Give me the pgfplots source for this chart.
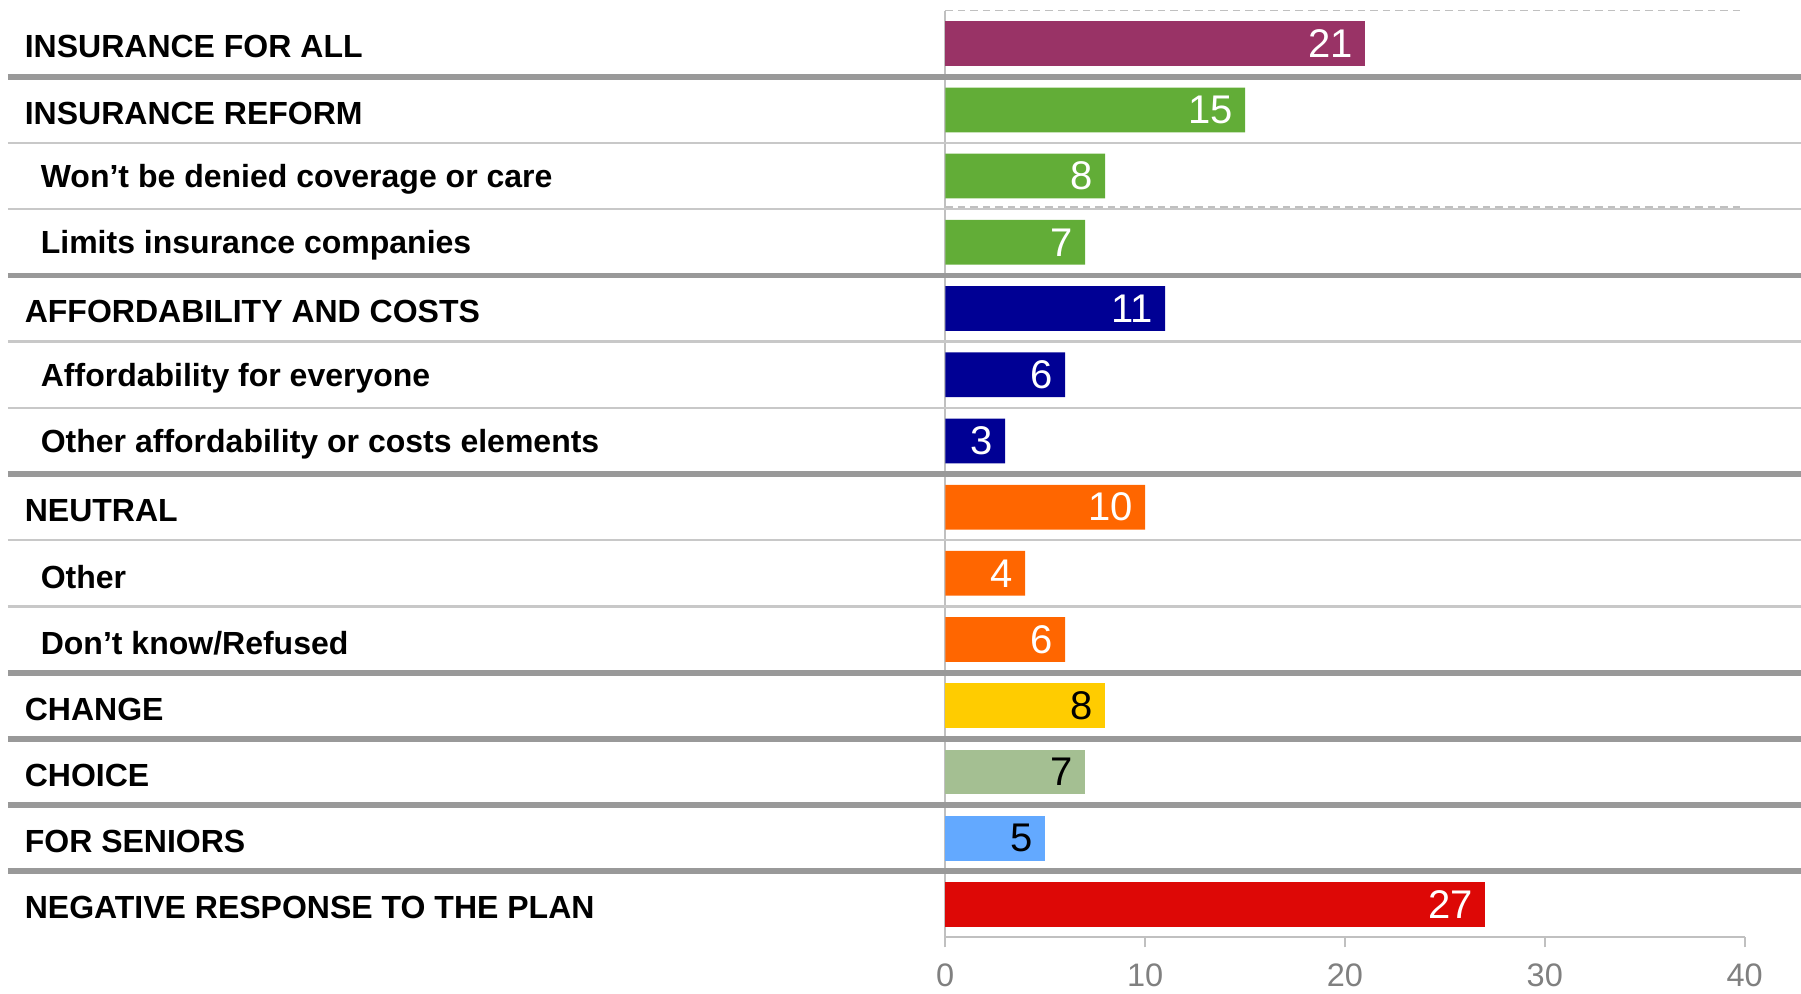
\documentclass[border=0pt]{standalone}
\usepackage{fontspec}
\setmainfont{Liberation Sans}
\usepackage{pgfplots}
\pgfplotsset{compat=1.18}

\definecolor{cPlum}{HTML}{993366}
\definecolor{cGreen}{HTML}{62AD37}
\definecolor{cNavy}{HTML}{000094}
\definecolor{cOrange}{HTML}{FF6600}
\definecolor{cYellow}{HTML}{FFCC00}
\definecolor{cSage}{HTML}{A4BF92}
\definecolor{cSky}{HTML}{63A9FF}
\definecolor{cRed}{HTML}{DD0806}
\definecolor{cThick}{HTML}{999999}
\definecolor{cThin}{HTML}{C8C8C8}
\definecolor{cAx}{HTML}{C0C0C0}
\definecolor{cTick}{HTML}{808080}

\begin{document}
\begin{tikzpicture}
\begin{axis}[
    width=319.7pt, height=370.7pt, scale only axis,
    xbar, bar width=17.9pt, bar shift=0pt,
    xmin=0, xmax=40, ymin=-0.5, ymax=13.5,
    axis x line*=bottom, axis y line*=left,
    axis line style={draw=cAx, line width=0.8pt, -},
    xtick={0,10,20,30,40},
    ytick={0,...,13},
    yticklabels={
      NEGATIVE RESPONSE TO THE PLAN,
      FOR SENIORS,
      CHOICE,
      CHANGE,
      \hspace*{6.4pt}Don’t know/Refused,
      \hspace*{6.4pt}Other,
      NEUTRAL,
      \hspace*{6.4pt}Other affordability or costs elements,
      \hspace*{6.4pt}Affordability for everyone,
      AFFORDABILITY AND COSTS,
      \hspace*{6.4pt}Limits insurance companies,
      \hspace*{6.4pt}Won’t be denied coverage or care,
      INSURANCE REFORM,
      INSURANCE FOR ALL},
    tick align=outside,
    major tick length=4pt,
    xtick style={draw=cAx, line width=0.8pt},
    ytick style={draw=none},
    xticklabel style={font=\fontsize{13}{13}\selectfont, text=cTick, inner sep=0pt, yshift=-6.5pt},
    yticklabel style={anchor=west, inner sep=0pt, xshift=-364.3pt, yshift=-1.3pt, font=\bfseries\fontsize{12.8}{14}\selectfont},
    /pgf/number format/assume math mode=true,
    nodes near coords,
    every node near coord/.append style={anchor=east, inner sep=0pt, xshift=-4.6pt, font=\fontsize{16}{16}\selectfont},
    clip=false,
]
% row separators
\draw[cThick, line width=2.3pt] (axis cs:-46.9,12.5) -- (axis cs:42.82,12.5);
\draw[cThick, line width=2.3pt] (axis cs:-46.9,9.5) -- (axis cs:42.82,9.5);
\draw[cThick, line width=2.3pt] (axis cs:-46.9,6.5) -- (axis cs:42.82,6.5);
\draw[cThick, line width=2.3pt] (axis cs:-46.9,3.5) -- (axis cs:42.82,3.5);
\draw[cThick, line width=2.3pt] (axis cs:-46.9,2.5) -- (axis cs:42.82,2.5);
\draw[cThick, line width=2.3pt] (axis cs:-46.9,1.5) -- (axis cs:42.82,1.5);
\draw[cThick, line width=2.3pt] (axis cs:-46.9,0.5) -- (axis cs:42.82,0.5);
\draw[cThin, line width=0.9pt] (axis cs:-46.9,11.5) -- (axis cs:42.82,11.5);
\draw[cThin, line width=0.9pt] (axis cs:-46.9,10.5) -- (axis cs:42.82,10.5);
\draw[cThin, line width=0.9pt] (axis cs:-46.9,8.5) -- (axis cs:42.82,8.5);
\draw[cThin, line width=0.9pt] (axis cs:-46.9,7.5) -- (axis cs:42.82,7.5);
\draw[cThin, line width=0.9pt] (axis cs:-46.9,5.5) -- (axis cs:42.82,5.5);
\draw[cThin, line width=0.9pt] (axis cs:-46.9,4.5) -- (axis cs:42.82,4.5);
% dashed frame lines
\draw[cAx, line width=0.6pt, dash pattern=on 3pt off 2pt] (axis cs:0,13.5) -- (axis cs:40,13.5);
\draw[cAx, line width=0.6pt, dash pattern=on 3pt off 2pt] (axis cs:0,10.53) -- (axis cs:40,10.53);

\addplot[fill=cPlum, draw=none, every node near coord/.append style={text=white}] coordinates {(21,13)};
\addplot[fill=cGreen, draw=none, every node near coord/.append style={text=white}] coordinates {(15,12) (8,11) (7,10)};
\addplot[fill=cNavy, draw=none, every node near coord/.append style={text=white}] coordinates {(11,9) (6,8) (3,7)};
\addplot[fill=cOrange, draw=none, every node near coord/.append style={text=white}] coordinates {(10,6) (4,5) (6,4)};
\addplot[fill=cYellow, draw=none, every node near coord/.append style={text=black}] coordinates {(8,3)};
\addplot[fill=cSage, draw=none, every node near coord/.append style={text=black}] coordinates {(7,2)};
\addplot[fill=cSky, draw=none, every node near coord/.append style={text=black}] coordinates {(5,1)};
\addplot[fill=cRed, draw=none, every node near coord/.append style={text=white}] coordinates {(27,0)};

\coordinate (bbA) at (axis cs:-47.3,13.66);
\coordinate (bbB) at (axis cs:42.82,-1.34);
\end{axis}
\pgfresetboundingbox
\path[use as bounding box] (bbA) rectangle (bbB);
\end{tikzpicture}
\end{document}
